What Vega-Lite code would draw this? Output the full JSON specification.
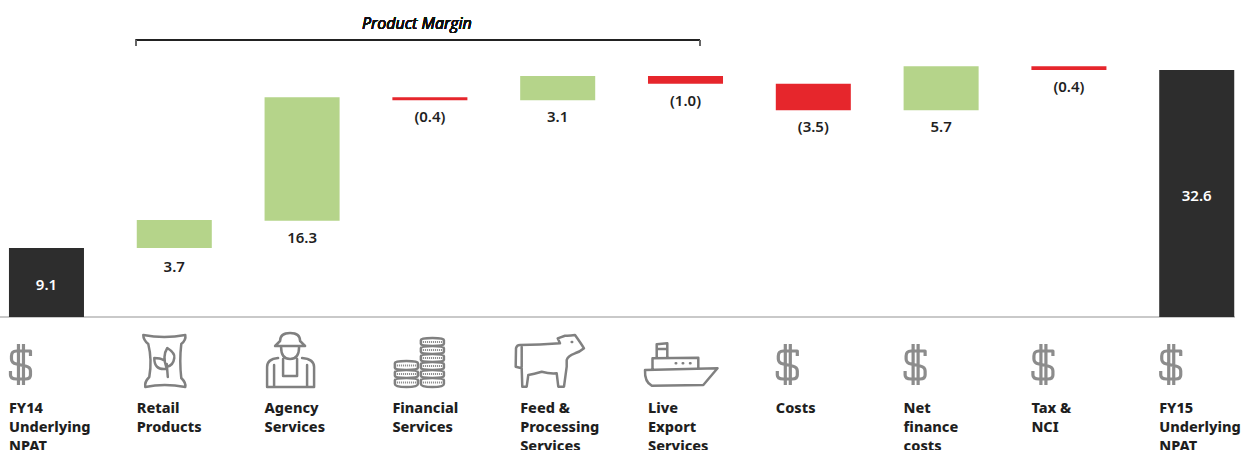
{
"$schema":"https://vega.github.io/schema/vega-lite/v6.json",
"width":1241,"height":317,
"autosize":{"type":"none"},
"padding":{"left":0,"top":0,"right":0,"bottom":133},
"background":"white",
"config":{"view":{"stroke":null}},
"data":{"values":[
{"category":"FY14 Underlying NPAT","start":0,"end":9.1,"low":0,"mid":4.2,"kind":"total","label":"9.1","icon":"dollar"},
{"category":"Retail Products","start":9.1,"end":12.8,"low":8.9,"mid":11,"kind":"up","label":"3.7","icon":"bag"},
{"category":"Agency Services","start":12.7,"end":29.0,"low":12.7,"mid":21,"kind":"up","label":"16.3","icon":"farmer"},
{"category":"Financial Services","start":29.0,"end":28.6,"low":28.6,"mid":28.8,"kind":"down","label":"(0.4)","icon":"coins"},
{"category":"Feed & Processing Services","start":28.6,"end":31.8,"low":28.6,"mid":30.2,"kind":"up","label":"3.1","icon":"cow"},
{"category":"Live Export Services","start":31.8,"end":30.8,"low":30.8,"mid":31.3,"kind":"down","label":"(1.0)","icon":"ship"},
{"category":"Costs","start":30.8,"end":27.3,"low":27.3,"mid":29,"kind":"down","label":"(3.5)","icon":"dollar"},
{"category":"Net finance costs","start":27.3,"end":33.1,"low":27.3,"mid":30.1,"kind":"up","label":"5.7","icon":"dollar"},
{"category":"Tax & NCI","start":33.1,"end":32.6,"low":32.6,"mid":32.8,"kind":"down","label":"(0.4)","icon":"dollar"},
{"category":"FY15 Underlying NPAT","start":0,"end":32.6,"low":0,"mid":16,"kind":"total","label":"32.6","icon":"dollar"}
]},
"encoding":{
"x":{"field":"category","type":"nominal","title":null,
"scale":{"domain":["FY14 Underlying NPAT","Retail Products","Agency Services","Financial Services","Feed & Processing Services","Live Export Services","Costs","Net finance costs","Tax & NCI","FY15 Underlying NPAT"],"range":[0,1241],"paddingInner":0.413,"paddingOuter":0.0615,"align":0.57},
"axis":{"domain":false,"ticks":false,"labelAngle":0,"labelAlign":"left","labelBaseline":"top","labelOffset":-37.5,"labelPadding":84,"labelFont":"Noto Sans","labelFontWeight":800,"labelFontSize":14.5,"labelColor":"#1f1f1f","labelLineHeight":19,"labelLimit":0,"labelOverlap":false,"labelBound":false,"labelFlush":false,"labelExpr":"split(replace(datum.label,' &','\u00a0&'),' ')"}}
},
"layer":[
{"mark":{"type":"rule","color":"#c9c9c9","strokeWidth":2,"xOffset":-47,"x2Offset":38},
 "encoding":{"x":{"datum":"FY14 Underlying NPAT"},"x2":{"datum":"FY15 Underlying NPAT"},"y":{"datum":0,"type":"quantitative","scale":{"domain":[0,41.84],"nice":false,"zero":false},"axis":null}}},
{"mark":{"type":"bar"},
 "encoding":{"y":{"field":"start","type":"quantitative","axis":null,"title":null},"y2":{"field":"end"},
 "color":{"field":"kind","type":"nominal","legend":null,"scale":{"domain":["total","up","down"],"range":["#2d2d2d","#b5d48a","#e6262c"]}}}},
{"transform":[{"filter":"datum.kind!=='total'"}],
 "mark":{"type":"text","font":"Noto Sans","fontSize":15,"fontWeight":600,"color":"#1f1f1f","baseline":"middle","yOffset":17},
 "encoding":{"y":{"field":"low","type":"quantitative"},"text":{"field":"label"}}},
{"transform":[{"filter":"datum.kind==='total'"}],
 "mark":{"type":"text","font":"Noto Sans","fontSize":15,"fontWeight":600,"color":"#ffffff","baseline":"middle"},
 "encoding":{"y":{"field":"mid","type":"quantitative"},"text":{"field":"label"}}},
{"transform":[{"filter":"datum.icon==='dollar'"}],
 "mark":{"type":"point","filled":false,"size":4,"stroke":"#8c8c8c","strokeWidth":3.2,"strokeJoin":"round","opacity":1,
 "shape":"M-16,-6 L-16,-11 L-30,-11 Q-35,-11 -35,-6 L-35,-3 Q-35,1 -30,2 L-21,4 Q-16,5 -16,9 L-16,13 Q-16,17 -21,17 L-30,17 Q-36,17 -36,13 L-36,9 M-28,-18 L-28,23 M-23,-18 L-23,23"},
 "encoding":{"y":{"datum":-5.94,"type":"quantitative"}}},
{"transform":[{"filter":"datum.icon!=='dollar'"}],
 "mark":{"type":"point","filled":false,"size":4,"stroke":"#808080","strokeWidth":2.5,"strokeCap":"round","strokeJoin":"round","opacity":1},
 "encoding":{"y":{"datum":-5.94,"type":"quantitative"},
 "shape":{"field":"icon","type":"nominal","legend":null,"scale":{"domain":["bag","farmer","coins","cow","ship"],"range":[
 "M-31,-27 Q-10,-23 11,-27 Q12,-22 7,-18 Q5,-1 7,16 Q12,21 11,25 Q-10,21 -29,25 Q-30,20 -25,15 Q-22,-2 -26,-18 Q-31,-22 -31,-27 Z M-6.5,15 L-7.5,2 M-8,5 Q-12,-6 -7,-14 Q1,-9 0,-4 Q-1,4 -8,5 Z M-9,7 Q-20,8 -20,-4 Q-14,-4 -11,-2",
 "M-27,-16 L3,-16 L-2,-21 Q-2,-29 -12,-29 Q-22,-29 -22,-21 Z M-21,-15 Q-21,-3 -12,-3 Q-3,-3 -3,-15 M-35,25 L-35,5 Q-35,-3 -24,-4 M12,25 L12,5 Q12,-3 0,-4 M-35,25 L12,25 M-28,25 L-28,3 M5,25 L5,3 M-19,-3 L-19,14 L-5,14 L-5,-3",
 "M-9,-22 Q-9,-24 2.5,-24 Q14,-24 14,-22 L14,-18 Q14,-16 2.5,-16 Q-9,-16 -9,-18 Z M-9,-14 Q-9,-16 2.5,-16 Q14,-16 14,-14 L14,-10 Q14,-8 2.5,-8 Q-9,-8 -9,-10 Z M-9,-6 Q-9,-8 2.5,-8 Q14,-8 14,-6 L14,-2 Q14,0 2.5,0 Q-9,0 -9,-2 Z M-9,2 Q-9,0 2.5,0 Q14,0 14,2 L14,6 Q14,8 2.5,8 Q-9,8 -9,6 Z M-9,10 Q-9,8 2.5,8 Q14,8 14,10 L14,14 Q14,16 2.5,16 Q-9,16 -9,14 Z M-9,18 Q-9,16 2.5,16 Q14,16 14,18 L14,22 Q14,25 2.5,25 Q-9,25 -9,22 Z M-35,1 Q-35,-1 -23.5,-1 Q-12,-1 -12,1 L-12,6 Q-12,8 -23.5,8 Q-35,8 -35,6 Z M-35,10 Q-35,8 -23.5,8 Q-12,8 -12,10 L-12,14 Q-12,16 -23.5,16 Q-35,16 -35,14 Z M-35,18 Q-35,16 -23.5,16 Q-12,16 -12,18 L-12,22 Q-12,25 -23.5,25 Q-35,25 -35,22 Z",
 "M-37.7,-17 Q-18,-17 2.3,-18.7 L0,-23.7 L7.3,-26.3 Q12,-26 17.3,-27 Q23,-19 26.3,-13.7 Q22,-10 17.3,-8.7 Q10,-6 9,-2 L9,4.7 L6.3,24.7 L0.6,24.7 L-1,11.3 Q-8,12 -16,9.7 Q-24,12 -29.4,13 L-31,24.7 L-35.4,24.7 L-36,6.3 L-42,4.7 L-41.7,-13.7 Q-41,-17 -37.7,-17 Z M-36,-15 L-36,5 M14,-20 L14.5,-20",
 "M-40.5,8 L32,6.3 L17.8,23 L-33.8,23.7 Q-41,20 -40.5,8 Z M-33,6.3 L-33,-3.7 L12.8,-4.3 L12.8,6.3 M-28.8,-3.7 L-28.8,-17.7 L-18.2,-18.7 L-18.2,-4.3 M-28.8,-13 L-18.2,-13 M-9.8,1.3 L-9.3,1.3 M-2.8,1.3 L-2.3,1.3 M4.5,1.3 L5,1.3"
 ]}}}},
{"transform":[{"filter":"datum.icon==='coins'"}],
 "mark":{"type":"point","filled":false,"size":4,"stroke":"#808080","strokeWidth":2,"strokeDash":[1,1],"opacity":1,"shape":"M-7,-20 L12,-20 M-7,-12 L12,-12 M-7,-4 L12,-4 M-7,4 L12,4 M-7,12 L12,12 M-7,20.5 L12,20.5 M-33,3.5 L-14,3.5 M-33,12 L-14,12 M-33,20.5 L-14,20.5"},
 "encoding":{"y":{"datum":-5.94,"type":"quantitative"}}},
{"mark":{"type":"rule","color":"#222222","strokeWidth":1.2,"xOffset":-38.5,"x2Offset":14.5},
 "encoding":{"x":{"datum":"Retail Products"},"x2":{"datum":"Live Export Services"},"y":{"datum":36.56,"type":"quantitative"}}},
{"mark":{"type":"rule","color":"#666666","strokeWidth":1.2,"xOffset":-38.5},
 "encoding":{"x":{"datum":"Retail Products"},"y":{"datum":36.56,"type":"quantitative"},"y2":{"datum":35.77}}},
{"mark":{"type":"rule","color":"#666666","strokeWidth":1.2,"xOffset":14.5},
 "encoding":{"x":{"datum":"Live Export Services"},"y":{"datum":36.56,"type":"quantitative"},"y2":{"datum":35.77}}},
{"mark":{"type":"text","text":"Product Margin","font":"Open Sans","fontStyle":"italic","fontWeight":500,"fontSize":16,"color":"#111111","baseline":"middle","xOffset":-13},
 "encoding":{"x":{"datum":"Financial Services"},"y":{"datum":38.7,"type":"quantitative"}}}
]
}
